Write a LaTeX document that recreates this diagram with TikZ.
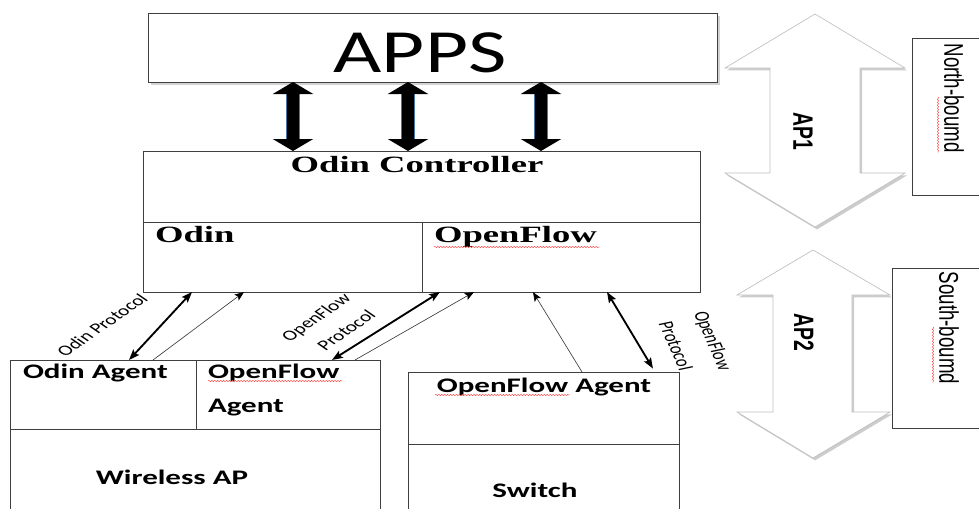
\documentclass[tikz,border=0pt]{standalone}
\usepackage{fontspec}
\usetikzlibrary{arrows.meta,shadows,fit,decorations.pathmorphing}
\newfontfamily\carl{Carlito}
\newfontfamily\lsans{Liberation Sans}
\newfontfamily\lserif{Liberation Serif}
\definecolor{boxline}{HTML}{3F3F3F}
\definecolor{arrowblue}{HTML}{4A78A8}
\begin{document}
\begin{tikzpicture}[x=0.75pt,y=-0.75pt,
 box/.style={draw=boxline,line width=0.7pt,inner sep=0pt,outer sep=0pt,fill=white},
 divline/.style={draw=boxline,line width=0.7pt},
 txt/.style={inner sep=0pt,outer sep=0pt},
 appsfont/.style={font=\carl\fontsize{46}{50}\selectfont,xscale=1.36},
 ctrlfont/.style={font=\lserif\bfseries\fontsize{17.5}{20}\selectfont,xscale=1.57},
 agentfont/.style={font=\carl\bfseries\fontsize{15.5}{18}\selectfont,xscale=1.5},
 protofont/.style={font=\carl\fontsize{11}{13}\selectfont},
 apfont/.style={font=\lsans\bfseries\fontsize{14.5}{17}\selectfont},
 boundfont/.style={font=\lsans\fontsize{14}{17}\selectfont},
 bigdbl/.style={line width=9.5pt,draw=black,
   {Triangle[length=9pt,width=30pt]}-{Triangle[length=9pt,width=30pt]},
   preaction={-,draw=arrowblue,line width=11pt,shorten <=8pt,shorten >=8pt}},
 thickdbl/.style={line width=1.4pt,draw=black,{Stealth[length=8pt,width=6pt,inset=1.5pt]}-{Stealth[length=8pt,width=6pt,inset=1.5pt]}},
 thinarr/.style={line width=0.5pt,draw=black!75,-{Stealth[length=7pt,width=5.5pt,inset=1.5pt,black]}},
 bigwhite/.style={fill=white,draw=black!25,line width=0.5pt,drop shadow={shadow xshift=1.5pt,shadow yshift=-1.8pt,opacity=0.4}},
 squig/.style={draw=red!75,line width=0.35pt,decorate,decoration={snake,amplitude=0.45pt,segment length=2.2pt}}
]
\useasboundingbox (0,0) rectangle (979,508);

% big white interface arrows
\draw[bigwhite] (815,14) -- (905,68) -- (860,68) -- (860,173) -- (905,173) -- (815,227)
  -- (725,173) -- (770,173) -- (770,68) -- (725,68) -- cycle;
\draw[bigwhite] (813,250) -- (890,295) -- (852,295) -- (852,412) -- (890,412) -- (813,458)
  -- (737,412) -- (773,412) -- (773,295) -- (737,295) -- cycle;
\node[txt,apfont,xscale=1.45,rotate=-90] (ap1) at (803,131) {AP1};
\node[txt,apfont,xscale=1.45,rotate=-90] (ap2) at (804,332) {AP2};

% bound boxes (cut by the right edge)
\draw[divline] (985,38) -- (912,38) -- (912,195) -- (985,195);
\draw[divline] (985,268) -- (892,268) -- (892,428) -- (985,428);
\node[txt,boundfont,xscale=1.45,rotate=-90] (nb) at (954,98) {North-boumd};
\node[txt,boundfont,xscale=1.45,rotate=-90] (sb) at (949,328) {South-boumd};
\draw[squig] (938,97) -- (938,153);
\draw[squig] (933,327) -- (933,383);

% APPS
\node[box,fit={(148,13) (717,82)},drop shadow={shadow xshift=2pt,shadow yshift=-2pt,opacity=0.35}] (apps) {};
\node[txt,appsfont,anchor=base] (appst) at (420,72) {APPS};

% Controller
\node[box,fit={(143,151) (700,292)}] (ctrl) {};
\draw[divline] (ctrl.west |- 0,222) -- (ctrl.east |- 0,222);
\draw[divline] (422,222) -- (422,0 |- ctrl.south);
\node[txt,ctrlfont,anchor=base] (ctrlt) at (417,172) {Odin Controller};
\node[txt,ctrlfont,anchor=base west] (odin) at (155,242) {Odin};
\node[txt,ctrlfont,anchor=base west] (ofc) at (434,242) {OpenFlow};
\draw[squig] (434,247) -- (600,247);

% Wireless AP
\node[box,fit={(10,360) (380,520)}] (ap) {};
\draw[divline] (ap.west |- 0,429) -- (ap.east |- 0,429);
\draw[divline] (196,0 |- ap.north) -- (196,429);
\node[txt,agentfont,anchor=base west] (oa) at (23,378) {Odin Agent};
\node[txt,agentfont,anchor=base west] (ofa1) at (208,378) {OpenFlow};
\node[txt,agentfont,anchor=base west] (ofa2) at (208,412) {Agent};
\node[txt,agentfont,anchor=base] (wap) at (172,484) {Wireless AP};
\draw[squig] (208,381) -- (342,381);

% Switch
\node[box,fit={(408,372) (679,520)}] (sw) {};
\draw[divline] (sw.west |- 0,444) -- (sw.east |- 0,444);
\node[txt,agentfont,anchor=base] (ofs) at (544,392) {OpenFlow Agent};
\node[txt,agentfont,anchor=base] (swt) at (535,497) {Switch};
\draw[squig] (435,395) -- (570,395);

% APPS <-> controller
\draw[bigdbl] (293,0 |- apps.south) -- (293,0 |- ctrl.north);
\draw[bigdbl] (408,0 |- apps.south) -- (408,0 |- ctrl.north);
\draw[bigdbl] (541,0 |- apps.south) -- (541,0 |- ctrl.north);

% controller <-> agents
\draw[thickdbl] (192,0 |- ctrl.south) -- (129,0 |- ap.north);
\draw[thinarr] (153,0 |- ap.north) -- (244,0 |- ctrl.south);
\draw[thickdbl] (440,0 |- ctrl.south) -- (332,0 |- ap.north);
\draw[thinarr] (355,0 |- ap.north) -- (474,0 |- ctrl.south);
\draw[thinarr] (582,0 |- sw.north) -- (533,0 |- ctrl.south);
\draw[thickdbl,shorten >=3pt] (607,0 |- ctrl.south) -- (655,0 |- sw.north);

% protocol labels
\node[txt,protofont,xscale=1.45,rotate=45] (lodin) at (102,325) {Odin Protocol};
\node[txt,protofont,xscale=1.45,rotate=45] (lof1) at (317,318) {OpenFlow};
\node[txt,protofont,xscale=1.45,rotate=45] (lof2) at (346,330) {Protocol};
\node[txt,protofont,xscale=1.45,rotate=-73] (rof1) at (712,341) {OpenFlow};
\node[txt,protofont,xscale=1.45,rotate=-73] (rof2) at (676,346) {Protocol};
\end{tikzpicture}
\end{document}
